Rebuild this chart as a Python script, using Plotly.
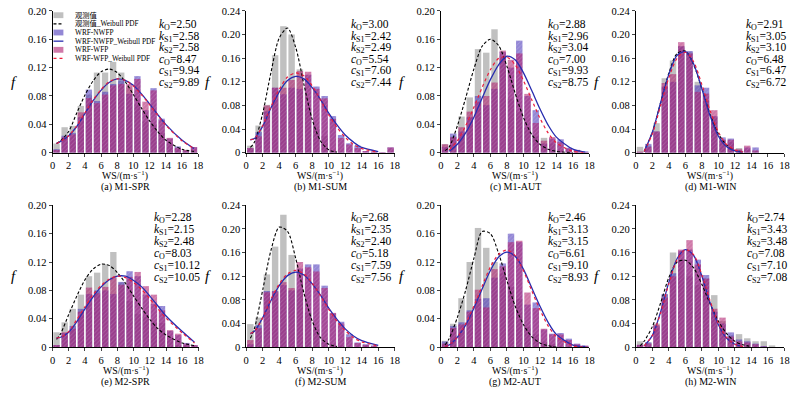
import plotly.graph_objects as go

# ---------------- data ----------------
BIN_CENTERS = [0.5, 1.5, 2.5, 3.5, 4.5, 5.5, 6.5, 7.5, 8.5, 9.5,
               10.5, 11.5, 12.5, 13.5, 14.5, 15.5, 16.5, 17.5]
X_TICKS = [0, 2, 4, 6, 8, 10, 12, 14, 16, 18]
PANEL_TITLES = ["(a) M1-SPR", "(b) M1-SUM", "(c) M1-AUT", "(d) M1-WIN",
                "(e) M2-SPR", "(f) M2-SUM", "(g) M2-AUT", "(h) M2-WIN"]
Y_MAX = [0.20, 0.24, 0.20, 0.24, 0.20, 0.24, 0.20, 0.24]

# histogram heights (obs, WRF-NWFP, WRF-WFP) per panel
OBS_A = [.013, .036, .038, .066, .082, .113, .113, .128, .113, .092, .068, .044, .040, .028, .012, .005, .004, .001]
NWFP_A = [.005, .024, .028, .050, .089, .073, .086, .097, .102, .083, .108, .060, .091, .048, .020, .009, .003, .008]
WFP_A = [.004, .022, .026, .057, .077, .070, .082, .095, .097, .097, .104, .072, .088, .046, .021, .007, .004, .008]

OBS_B = [.012, .046, .081, .165, .214, .200, .141, .076, .040, .028, .004, .002, 0, 0, 0, 0, 0, 0]
NWFP_B = [.008, .035, .070, .110, .099, .110, .108, .132, .112, .096, .062, .030, .016, .012, .003, .002, .001, .009]
WFP_B = [.008, .028, .080, .110, .110, .123, .138, .137, .108, .092, .057, .025, .014, .008, .003, .002, .001, .009]

OBS_C = [.012, .023, .051, .078, .146, .141, .174, .136, .076, .058, .035, .023, .021, .013, .003, .001, 0, 0]
NWFP_C = [.008, .027, .030, .050, .080, .067, .090, .142, .120, .158, .080, .060, .013, .020, .019, .007, .004, .002]
WFP_C = [.012, .022, .036, .058, .072, .080, .099, .144, .131, .140, .083, .042, .017, .022, .015, .006, .004, .001]

OBS_D = [.010, .012, .050, .126, .156, .180, .170, .120, .088, .060, .020, .018, .008, .005, .003, 0, 0, 0]
NWFP_D = [.001, .015, .036, .112, .120, .180, .172, .114, .110, .062, .026, .024, .004, .009, .009, 0, 0, 0]
WFP_D = [.002, .010, .036, .118, .133, .187, .168, .103, .100, .072, .022, .022, .006, .012, .004, 0, 0, 0]

OBS_E = [.021, .035, .054, .074, .100, .105, .117, .134, .091, .065, .047, .043, .035, .034, .012, .003, .003, .001]
NWFP_E = [.003, .020, .030, .054, .075, .080, .080, .075, .092, .107, .100, .074, .061, .058, .023, .017, .006, .003]
WFP_E = [.003, .021, .026, .050, .084, .076, .085, .098, .088, .099, .106, .086, .074, .052, .024, .019, .005, .003]

OBS_F = [.039, .050, .123, .170, .224, .156, .098, .058, .030, .008, .005, .003, 0, 0, .003, 0, 0, 0]
NWFP_F = [.005, .037, .095, .095, .105, .096, .133, .140, .140, .104, .057, .043, .022, .008, .005, .003, 0, 0]
WFP_F = [.012, .032, .093, .094, .110, .100, .144, .135, .128, .100, .058, .040, .017, .007, .004, .002, 0, 0]

OBS_G = [.009, .033, .069, .120, .168, .140, .120, .104, .085, .068, .028, .018, .008, .004, .001, 0, 0, 0]
NWFP_G = [.008, .030, .035, .052, .068, .069, .098, .118, .160, .148, .060, .063, .025, .019, .020, .012, .005, .002]
WFP_G = [.005, .027, .032, .050, .081, .056, .110, .114, .148, .150, .077, .055, .026, .018, .018, .010, .004, .002]

OBS_H = [.010, .008, .040, .088, .160, .148, .120, .105, .116, .088, .044, .020, .022, .015, .010, .010, .003, 0]
NWFP_H = [.004, .008, .036, .090, .125, .163, .165, .148, .122, .060, .040, .025, .013, .010, .006, .002, 0, 0]
WFP_H = [.004, .006, .038, .084, .120, .165, .181, .140, .116, .065, .050, .018, .010, .008, .005, .001, 0, 0]

# fitted Weibull PDF curves at these wind speeds
CURVE_X = [0.5, 1, 2, 3, 4, 5, 6, 7, 8, 9, 10, 11, 12, 13, 14, 16, 17.5]
N = None
OBS_PDF_A = [.013, .017, .030, .056, .081, .101, .114, .118, .113, .100, .082, .063, .045, .030, .018, .005, .002]
NWFP_PDF_A = [.013, .016, .024, .037, .055, .073, .088, .099, .104, .102, .095, .083, .069, .054, .040, .018, .006]
WFP_PDF_A = [.013, .016, .024, .038, .056, .074, .089, .100, .104, .102, .094, .082, .068, .053, .039, .017, .006]

OBS_PDF_B = [.009, .018, .067, .136, .194, .211, .178, .115, .056, .020, .005, .001, N, N, N, N, N]
NWFP_PDF_B = [.022, .024, .045, .076, .103, .122, .129, .125, .110, .090, .067, .047, .030, .018, .009, .002, N]
WFP_PDF_B = [.022, .024, .046, .078, .107, .128, .135, .130, .113, .089, .064, .043, .026, .014, .007, .001, N]

OBS_PDF_C = [.003, .008, .038, .077, .118, .150, .160, .151, .122, .084, .050, .026, .012, .005, .002, .000, N]
NWFP_PDF_C = [N, .002, .012, .028, .050, .077, .103, .124, .136, .131, .113, .088, .062, .039, .022, .005, .001]
WFP_PDF_C = [N, .004, .017, .038, .064, .092, .117, .133, .135, .124, .102, .075, .049, .028, .014, .002, .000]

OBS_PDF_D = [N, .002, .035, .085, .135, .168, .172, .149, .108, .065, .032, .013, .004, .001, N, N, N]
NWFP_PDF_D = [N, .002, .035, .085, .133, .165, .171, .150, .108, .062, .028, .010, .003, .001, N, N, N]
WFP_PDF_D = [N, .002, .032, .080, .127, .160, .170, .154, .115, .071, .035, .014, .005, .001, N, N, N]

OBS_PDF_E = [.011, .019, .046, .072, .095, .110, .117, .115, .105, .090, .072, .055, .039, .026, .017, .006, .002]
NWFP_PDF_E = [.013, .014, .021, .036, .054, .071, .085, .095, .100, .100, .094, .085, .072, .058, .044, .022, .007]
WFP_PDF_E = [.013, .014, .022, .039, .057, .074, .087, .096, .100, .098, .091, .081, .068, .054, .041, .020, .006]

OBS_PDF_F = [.015, .032, .097, .164, .203, .196, .150, .091, .044, .016, .005, .001, N, N, N, N, N]
NWFP_PDF_F = [.023, .027, .050, .079, .104, .121, .127, .122, .107, .088, .066, .047, .031, .019, .011, .003, N]
WFP_PDF_F = [.023, .027, .050, .081, .107, .124, .130, .124, .108, .087, .064, .044, .028, .016, .009, .002, N]

OBS_PDF_G = [.003, .012, .042, .080, .125, .163, .160, .132, .094, .058, .032, .015, .006, .002, .000, N, N]
NWFP_PDF_G = [.001, .003, .014, .031, .055, .082, .108, .127, .134, .128, .110, .084, .058, .035, .018, .003, .001]
WFP_PDF_G = [.001, .003, .014, .033, .058, .086, .113, .131, .137, .129, .108, .080, .053, .030, .015, .002, .000]

OBS_PDF_H = [.002, .010, .035, .075, .118, .144, .147, .134, .106, .073, .044, .023, .010, .004, .001, N, N]
NWFP_PDF_H = [N, .002, .020, .060, .110, .150, .165, .155, .120, .075, .038, .015, .005, .001, N, N, N]
WFP_PDF_H = [N, .002, .020, .058, .108, .148, .165, .156, .122, .078, .040, .016, .005, .001, N, N, N]

# Weibull parameters printed in each panel
K_O = ["2.50", "3.00", "2.88", "2.91", "2.28", "2.68", "2.46", "2.74"]
K_S1 = ["2.58", "2.42", "2.96", "3.05", "2.15", "2.35", "3.13", "3.43"]
K_S2 = ["2.58", "2.49", "3.04", "3.10", "2.48", "2.40", "3.15", "3.48"]
C_O = ["8.47", "5.54", "7.00", "6.48", "8.03", "5.18", "6.61", "7.08"]
C_S1 = ["9.94", "7.60", "9.93", "6.47", "10.12", "7.59", "9.10", "7.10"]
C_S2 = ["9.89", "7.44", "8.75", "6.72", "10.05", "7.56", "8.93", "7.08"]

LEGEND_NAMES = ["观测值", "观测值_Weibull PDF", "WRF-NWFP", "WRF-NWFP_Weibull PDF",
                "WRF-WFP", "WRF-WFP_Weibull PDF"]

BARS = [(OBS_A, NWFP_A, WFP_A), (OBS_B, NWFP_B, WFP_B), (OBS_C, NWFP_C, WFP_C),
        (OBS_D, NWFP_D, WFP_D), (OBS_E, NWFP_E, WFP_E), (OBS_F, NWFP_F, WFP_F),
        (OBS_G, NWFP_G, WFP_G), (OBS_H, NWFP_H, WFP_H)]
CURVES = [(OBS_PDF_A, NWFP_PDF_A, WFP_PDF_A), (OBS_PDF_B, NWFP_PDF_B, WFP_PDF_B),
          (OBS_PDF_C, NWFP_PDF_C, WFP_PDF_C), (OBS_PDF_D, NWFP_PDF_D, WFP_PDF_D),
          (OBS_PDF_E, NWFP_PDF_E, WFP_PDF_E), (OBS_PDF_F, NWFP_PDF_F, WFP_PDF_F),
          (OBS_PDF_G, NWFP_PDF_G, WFP_PDF_G), (OBS_PDF_H, NWFP_PDF_H, WFP_PDF_H)]

# ---------------- layout / style ----------------
W, H = 800, 394
FONT = "Liberation Serif, Times New Roman, Noto Sans CJK SC, serif"
AXIS_X0 = [50, 245.7, 442.3, 639.3, 50, 245.7, 442.3, 639.3]
AXIS_W = [147, 150, 150, 150, 147.5, 150, 150, 150]
ROW_TOP = [6, 206]
ROW_BOT = [152, 352]
PARAM_X = [156, 349, 548, 748, 150, 349, 548, 749]
PARAM_Y0 = [20.7, 219]
PARAM_DY = [11.9, 12.4]
WS_Y = [175.5, 375.5]
SUB_Y = [187.5, 387.5]

BAR_COLORS = ["rgb(150,150,150)", "rgb(75,55,185)", "rgb(175,30,110)"]
BAR_OPAC = 0.6
LINE_STYLES = [dict(color="black", width=1.1, dash="3px,2px"),
               dict(color="rgb(40,45,175)", width=1.3),
               dict(color="rgb(235,30,60)", width=1.2, dash="dot")]


def px(x):
    return x / W


def py(y):
    return 1 - y / H


def text_ann(x, y, text, size, xanchor="center"):
    return dict(x=px(x), y=py(y), xref="paper", yref="paper", xanchor=xanchor,
                yanchor="middle", text=text, showarrow=False,
                font=dict(family=FONT, size=size, color="black"))


fig = go.Figure()
annotations = []
shapes = []

for i in range(8):
    row = i // 4
    n = "" if i == 0 else str(i + 1)
    xa, ya = "x" + n, "y" + n
    for s in range(3):
        marker = dict(color=BAR_COLORS[s], line=dict(width=0))
        if s > 0:
            marker["pattern"] = dict(shape="/", fillmode="overlay", fgcolor="white",
                                     fgopacity=0.18, size=3, solidity=0.3)
        fig.add_trace(go.Bar(x=BIN_CENTERS, y=BARS[i][s], width=0.78, marker=marker,
                             opacity=BAR_OPAC, xaxis=xa, yaxis=ya, showlegend=False,
                             hoverinfo="skip"))
    for s in range(3):
        fig.add_trace(go.Scatter(x=CURVE_X, y=CURVES[i][s], mode="lines",
                                 line=dict(shape="spline", smoothing=0.8, **LINE_STYLES[s]),
                                 xaxis=xa, yaxis=ya, showlegend=False, hoverinfo="skip"))

    ymax = Y_MAX[i]
    yt = [round(0.04 * k, 2) for k in range(int(round(ymax / 0.04)) + 1)]
    ytext = ["0" if v == 0 else f"{v:.2f}" for v in yt]
    x0 = AXIS_X0[i]
    x1 = x0 + AXIS_W[i]
    fig.layout["xaxis" + n] = dict(
        domain=[px(x0), px(x1)], anchor=ya, range=[0, 18], tickvals=X_TICKS,
        ticks="outside", ticklen=3, tickwidth=1, showline=True, linecolor="black",
        linewidth=1, showgrid=False, zeroline=False,
        tickfont=dict(family=FONT, size=10.5, color="black"), fixedrange=True)
    fig.layout["yaxis" + n] = dict(
        domain=[py(ROW_BOT[row]), py(ROW_TOP[row])], anchor=xa, range=[0, ymax],
        tickvals=yt, ticktext=ytext, ticks="outside", ticklen=3, tickwidth=1,
        showline=True, linecolor="black", linewidth=1, showgrid=False, zeroline=False,
        tickfont=dict(family=FONT, size=10.5, color="black"), fixedrange=True)

    cx = (x0 + x1) / 2
    annotations.append(text_ann(cx, WS_Y[row], "WS/(m·s<sup>−1</sup>)", 9.8))
    annotations.append(text_ann(cx, SUB_Y[row], PANEL_TITLES[i], 10))
    annotations.append(text_ann(x0 - 39, (ROW_TOP[row] + ROW_BOT[row]) / 2, "<i>f</i>", 15))
    lines = [f"<i>k</i><sub>O</sub>={K_O[i]}", f"<i>k</i><sub>S1</sub>={K_S1[i]}",
             f"<i>k</i><sub>S2</sub>={K_S2[i]}", f"<i>c</i><sub>O</sub>={C_O[i]}",
             f"<i>c</i><sub>S1</sub>={C_S1[i]}", f"<i>c</i><sub>S2</sub>={C_S2[i]}"]
    for j, t in enumerate(lines):
        annotations.append(text_ann(PARAM_X[i], PARAM_Y0[row] + j * PARAM_DY[row], t,
                                    11.5, xanchor="left"))

# ---------------- legend (panel a, drawn compactly) ----------------
LEG_X0, LEG_X1, LEG_TX = 51, 61, 71
LEG_Y0, LEG_DY = 10.5, 8.9
rect_fill = ["rgba(150,150,150,0.6)", "rgba(75,55,185,0.6)", "rgba(175,30,110,0.6)"]
for j, name in enumerate(LEGEND_NAMES):
    yc = LEG_Y0 + j * LEG_DY
    s = j // 2
    if j % 2 == 0:
        shapes.append(dict(type="rect", xref="paper", yref="paper",
                           x0=px(LEG_X0), x1=px(LEG_X1), y0=py(yc + 3), y1=py(yc - 3),
                           fillcolor=rect_fill[s], line=dict(width=0)))
    else:
        st = LINE_STYLES[s]
        shapes.append(dict(type="line", xref="paper", yref="paper",
                           x0=px(LEG_X0), x1=px(LEG_X1), y0=py(yc), y1=py(yc),
                           line=dict(color=st["color"], width=st["width"],
                                     dash=st.get("dash", "solid"))))
    annotations.append(text_ann(LEG_TX, yc, name, 7.3, xanchor="left"))

fig.update_layout(width=W, height=H, margin=dict(l=0, r=0, t=0, b=0),
                  paper_bgcolor="white", plot_bgcolor="white", barmode="overlay",
                  annotations=annotations, shapes=shapes, showlegend=False,
                  font=dict(family=FONT, color="black"))

fig.write_html("out.html", config={"displayModeBar": False, "staticPlot": True},
               post_script="document.body.style.margin='0';document.body.style.overflow='hidden';")
